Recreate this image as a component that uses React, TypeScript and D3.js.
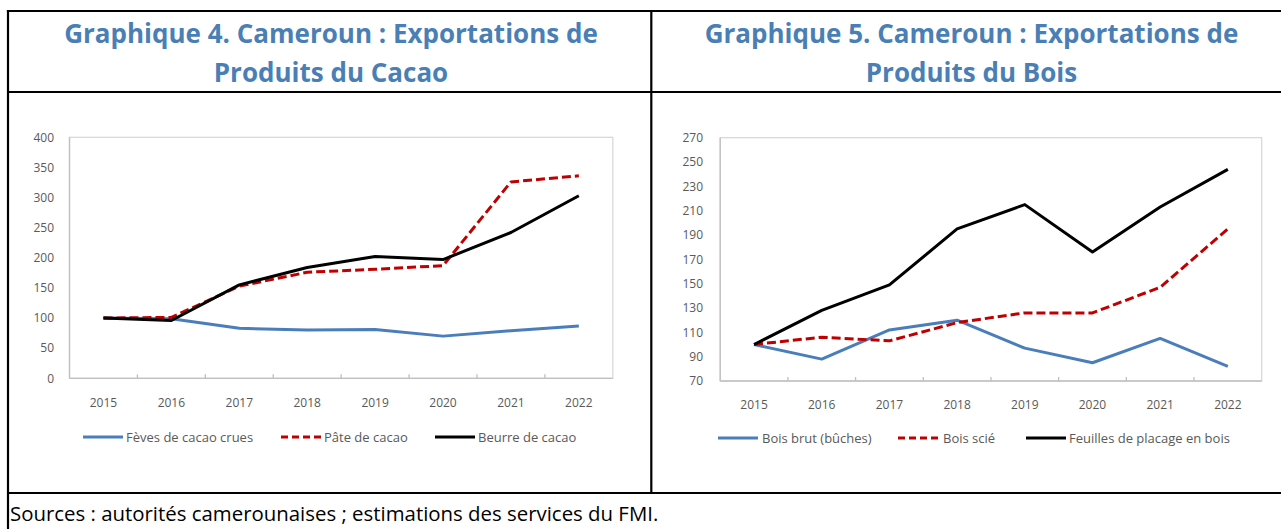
import React from 'react';
import * as d3 from 'd3';

const years = ['2015', '2016', '2017', '2018', '2019', '2020', '2021', '2022'];

const cocoaTitle = ['Graphique 4. Cameroun : Exportations de', 'Produits du Cacao'];
const cocoaNames = ['Fèves de cacao crues', 'Pâte de cacao', 'Beurre de cacao'];
const cocoaBeans = [100, 99, 83, 80, 81, 70, 79, 87];
const cocoaPaste = [100, 101, 153, 176, 181, 187, 326, 336];
const cocoaButter = [100, 96, 155, 184, 202, 197, 242, 303];
const cocoaTicks = [0, 50, 100, 150, 200, 250, 300, 350, 400];

const woodTitle = ['Graphique 5. Cameroun : Exportations de', 'Produits du Bois'];
const woodNames = ['Bois brut (bûches)', 'Bois scié', 'Feuilles de placage en bois'];
const woodLogs = [100, 88, 112, 120, 97, 85, 105, 82];
const woodSawn = [100, 106, 103, 118, 126, 126, 147, 195];
const woodVeneer = [100, 128, 149, 195, 215, 176, 213, 244];
const woodTicks = [70, 90, 110, 130, 150, 170, 190, 210, 230, 250, 270];

const sourceNote = 'Sources : autorités camerounaises ; estimations des services du FMI.';

const COLORS = ['#4a7ebb', '#c00000', '#000000'];
const DASHES = [null, '9,4', null];
const FONT = "'Open Sans', 'Noto Sans', sans-serif";

type ChartProps = {
  title: string[];
  titleCx: number;
  names: string[];
  series: number[][];
  ticks: number[];
  x0: number; x1: number; yTop: number; yBot: number;
  labelX: number;
  legend: { sx: number; tx: number }[];
  legendY: number;
};

function Chart(p: ChartProps) {
  const x = d3.scaleBand<string>().domain(years).range([p.x0, p.x1]);
  const y = d3.scaleLinear().domain([p.ticks[0], p.ticks[p.ticks.length - 1]]).range([p.yBot, p.yTop]);
  const line = d3.line<number>().x((_, i) => (x(years[i]) as number) + x.bandwidth() / 2).y((v) => y(v));
  return (
    <g>
      <text x={p.titleCx} y={43} textAnchor="middle" fontFamily={FONT} fontWeight={700} fontSize={26} fill="#4a7fb5">{p.title[0]}</text>
      <text x={p.titleCx} y={82} textAnchor="middle" fontFamily={FONT} fontWeight={700} fontSize={26} fill="#4a7fb5">{p.title[1]}</text>
      <rect x={p.x0} y={p.yTop} width={p.x1 - p.x0} height={p.yBot - p.yTop} fill="none" stroke="#d9d9d9" strokeWidth={1.3} />
      <line x1={p.x0} x2={p.x0} y1={p.yTop} y2={p.yBot} stroke="#bfbfbf" strokeWidth={1.3} />
      <line x1={p.x0} x2={p.x1} y1={p.yBot} y2={p.yBot} stroke="#bfbfbf" strokeWidth={1.3} />
      {years.slice(1).map((yr) => (
        <line key={yr} x1={x(yr)} x2={x(yr)} y1={p.yBot} y2={p.yBot - 4} stroke="#bfbfbf" strokeWidth={1.3} />
      ))}
      {p.ticks.map((t) => (
        <text key={t} x={p.labelX} y={y(t)} dy="0.35em" textAnchor="end" fontFamily={FONT} fontSize={12} fill="#595959">{t}</text>
      ))}
      {years.map((yr) => (
        <text key={yr} x={(x(yr) as number) + x.bandwidth() / 2} y={p.yBot + 24} dy="0.35em" textAnchor="middle" fontFamily={FONT} fontSize={12} fill="#595959">{yr}</text>
      ))}
      {p.series.map((s, i) => (
        <path key={i} d={line(s) as string} fill="none" stroke={COLORS[i]} strokeWidth={3} strokeDasharray={DASHES[i] ?? undefined} strokeLinejoin="round" />
      ))}
      {p.names.map((n, i) => (
        <g key={n}>
          <line x1={p.legend[i].sx} x2={p.legend[i].sx + 40} y1={p.legendY} y2={p.legendY} stroke={COLORS[i]} strokeWidth={3} strokeDasharray={DASHES[i] ? '7,4' : undefined} />
          <text x={p.legend[i].tx} y={p.legendY} dy="0.35em" fontFamily={FONT} fontSize={13} fill="#595959">{n}</text>
        </g>
      ))}
    </g>
  );
}

export default function App() {
  return (
    <div style={{ position: 'fixed', left: 0, top: 0 }}>
      <svg width={1281} height={529} style={{ display: 'block', background: '#fff' }}>
        <Chart title={cocoaTitle} titleCx={331} names={cocoaNames} series={[cocoaBeans, cocoaPaste, cocoaButter]} ticks={cocoaTicks}
          x0={69.5} x1={612.8} yTop={137.3} yBot={378.3} labelX={54}
          legend={[{ sx: 83, tx: 126 }, { sx: 281, tx: 324 }, { sx: 435, tx: 478 }]} legendY={437} />
        <Chart title={woodTitle} titleCx={971.5} names={woodNames} series={[woodLogs, woodSawn, woodVeneer]} ticks={woodTicks}
          x0={720.2} x1={1261.7} yTop={137.7} yBot={381} labelX={703}
          legend={[{ sx: 718, tx: 762 }, { sx: 898, tx: 943 }, { sx: 1026, tx: 1069 }]} legendY={438} />
        <g stroke="#000" strokeWidth={2.2}>
          <line x1={6.9} x2={1281} y1={11} y2={11} />
          <line x1={8} x2={8} y1={10} y2={529} />
          <line x1={651.3} x2={651.3} y1={11} y2={493} />
          <line x1={8} x2={1281} y1={92} y2={92} />
          <line x1={8} x2={1281} y1={493} y2={493} />
        </g>
        <text x={10} y={521} fontFamily={FONT} fontSize={20.4} fill="#000">{sourceNote}</text>
      </svg>
    </div>
  );
}
